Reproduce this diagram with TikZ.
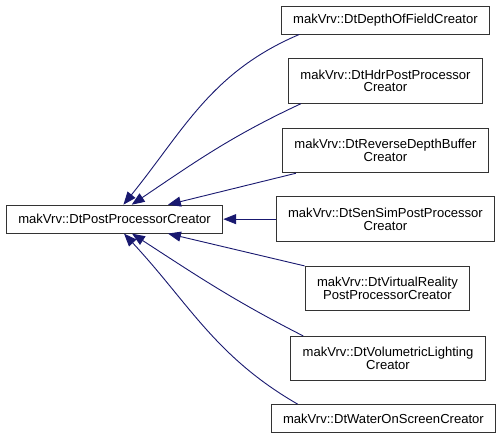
\documentclass[tikz,border=0pt]{standalone}
\usepackage{fontspec}
\setmainfont{Liberation Sans}
\usetikzlibrary{arrows.meta, calc, positioning}
\definecolor{midnightblue}{RGB}{25,25,112}

\begin{document}
\begin{tikzpicture}[
    cls/.style={draw=black!80, line width=0.9pt, fill=white, inner xsep=0.42cm, inner ysep=0pt,
      minimum height=0.98cm, align=center, font=\fontsize{13}{12.5}\selectfont},
    cls2/.style={cls, minimum height=1.555cm},
    inh/.style={-{Triangle[length=0.45cm,width=0.35cm]}, midnightblue, line width=0.9pt}
  ]
  \useasboundingbox (0,0) rectangle (17.64,-15.4);

	% base class
    \node[cls] (ppc) at (4.01,-7.67) {makVrv::DtPostProcessorCreator};

	% derived classes
    \node[cls]  (dof)    at (13.49,-0.70)  {makVrv::DtDepthOfFieldCreator};
    \node[cls2] (hdr)    at (13.49,-2.835) {makVrv::DtHdrPostProcessor\\Creator};
    \node[cls2] (rdb)    at (13.49,-5.27)  {makVrv::DtReverseDepthBuffer\\Creator};
    \node[cls2] (sensim) at (13.49,-7.67)  {makVrv::DtSenSimPostProcessor\\Creator};
    \node[cls2] (vr)     at (13.56,-10.10) {makVrv::DtVirtualReality\\PostProcessorCreator};
    \node[cls2] (vol)    at (13.58,-12.55) {makVrv::DtVolumetricLighting\\Creator};
    \node[cls]  (water)  at (13.42,-14.65) {makVrv::DtWaterOnScreenCreator};

	% inheritance arrows, upper half
	\draw[inh] ($(dof.south west)+(0.65,0)$) to[out=203, in=51] ($(ppc.north)+(0.31,0)$);
	\draw[inh] ($(hdr.south west)+(0.455,0)$) to[out=205, in=34] ($(ppc.north)+(0.60,0)$);
	\draw[inh] ($(rdb.south west)+(0.49,0)$) -- ($(ppc.north)+(1.87,0)$);
	\draw[inh] (sensim.west) -- (ppc.east);

	% inheritance arrows, lower half
	\draw[inh] (vr.north west) -- ($(ppc.south)+(1.87,0)$);
	\draw[inh] ($(vol.north west)+(0.455,0)$) to[out=153, in=-33] ($(ppc.south)+(0.61,0)$);
	\draw[inh] ($(water.north west)+(0.945,0)$) to[out=150, in=-47] ($(ppc.south)+(0.33,0)$);
\end{tikzpicture}
\end{document}
